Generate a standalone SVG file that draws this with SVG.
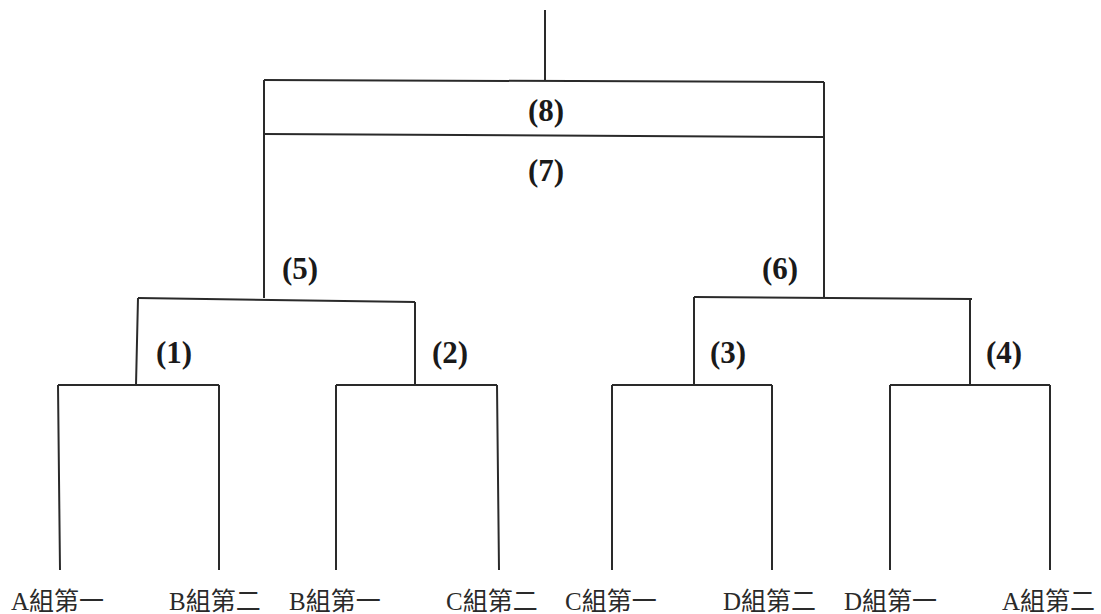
<svg xmlns="http://www.w3.org/2000/svg" width="1101" height="614" viewBox="0 0 1101 614">
<style>
.ln{stroke:#2a2a2a;stroke-width:2;fill:none}
.num{font-family:"Liberation Serif","Times New Roman",serif;font-weight:bold;font-size:31px;fill:#1a1a1a;text-anchor:middle}
.team{font-family:"Liberation Serif","Noto Sans CJK TC",serif;font-size:25px;fill:#2a2a2a}
</style>
<rect width="1101" height="614" fill="#fff"/>
<g id="connectors">
<path class="ln" d="M545 10V80"/>
<path class="ln" d="M264 80L824 82"/>
<path class="ln" d="M264 134L824 137"/>
<path class="ln" d="M264 80V298M824 82V298"/>
<path class="ln" d="M138 298L415 302"/>
<path class="ln" d="M138 298L136 385M415 302V385"/>
<path class="ln" d="M694 297L972 299"/>
<path class="ln" d="M694 297V385M970 299V385"/>
<path class="ln" d="M58 385H219M58 385L60 570M219 385V570"/>
<path class="ln" d="M336 385H497M336 385V570M497 385L499 570"/>
<path class="ln" d="M612 385H772M612 385V570M772 385V570"/>
<path class="ln" d="M890 385H1050M890 385V570M1050 385V570"/>
</g>
<g id="n8"><text class="num" x="546" y="121">(8)</text></g>
<g id="n7"><text class="num" x="546" y="181">(7)</text></g>
<g id="n5"><text class="num" x="300" y="279">(5)</text></g>
<g id="n6"><text class="num" x="780" y="279">(6)</text></g>
<g id="n1"><text class="num" x="174" y="363">(1)</text></g>
<g id="n2"><text class="num" x="450" y="363">(2)</text></g>
<g id="n3"><text class="num" x="728" y="363">(3)</text></g>
<g id="n4"><text class="num" x="1004" y="363">(4)</text></g>
<g id="t1"><text class="team" x="11" y="610">A組第一</text></g>
<g id="t2"><text class="team" x="169" y="610">B組第二</text></g>
<g id="t3"><text class="team" x="289" y="610">B組第一</text></g>
<g id="t4"><text class="team" x="446" y="610">C組第二</text></g>
<g id="t5"><text class="team" x="565" y="610">C組第一</text></g>
<g id="t6"><text class="team" x="723" y="610">D組第二</text></g>
<g id="t7"><text class="team" x="844" y="610">D組第一</text></g>
<g id="t8"><text class="team" x="1002" y="610">A組第二</text></g>
</svg>
